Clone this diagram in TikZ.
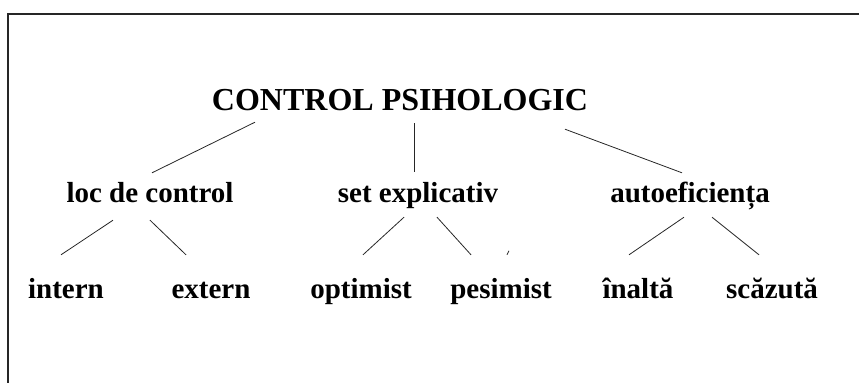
\documentclass[tikz,border=0pt]{standalone}
\usepackage{fontspec}
\setmainfont{Liberation Serif}
\usepackage{tikz}

\begin{document}
\begin{tikzpicture}[
  x=1pt,y=-1pt,
  font=\bfseries,
  root/.style={inner sep=0pt,anchor=base,text height=20pt,text depth=6pt,font=\fontsize{32}{36}\selectfont\bfseries},
  branch/.style={inner sep=0pt,anchor=base,text height=20pt,text depth=6pt,font=\fontsize{29}{34}\selectfont\bfseries},
  leaf/.style={branch},
  ln/.style={draw=black!85,line width=0.8pt},
  frame/.style={draw=black!85,line width=1.6pt}
]
\useasboundingbox (0,0) rectangle (859,383);
\draw[frame] (859,14) -- (8,14) -- (8,383);

\node[root] (psy) at (400,110) {CONTROL PSIHOLOGIC};

\node[branch] (loc) at (150,202) {loc de control};
\node[branch] (set) at (418,202) {set explicativ};
\node[branch] (auto) at (690,202) {autoeficiența};

\node[leaf] (int) at (66,298) {intern};
\node[leaf] (ext) at (211,298) {extern};
\node[leaf] (opt) at (361,298) {optimist};
\node[leaf] (pes) at (501,298) {pesimist};
\node[leaf] (high) at (638,298) {înaltă};
\node[leaf] (low) at (772,298) {scăzută};

\draw[ln] ([xshift=-145pt,yshift=-6pt]psy.south) -- ([xshift=2pt,yshift=9pt]loc.north);
\draw[ln] ([xshift=14pt,yshift=-7pt]psy.south) -- ([xshift=-4pt,yshift=10pt]set.north);
\draw[ln] ([xshift=165pt,yshift=-13pt]psy.south) -- ([xshift=-8pt,yshift=9pt]auto.north);

\draw[ln] ([xshift=-37pt,yshift=-12pt]loc.south) -- ([xshift=-5pt,yshift=23pt]int.north);
\draw[ln] ([yshift=-12pt]loc.south) -- ([xshift=-25pt,yshift=23pt]ext.north);
\draw[ln] ([xshift=-14pt,yshift=-9pt]set.south) -- ([xshift=2pt,yshift=23pt]opt.north);
\draw[ln] ([xshift=19pt,yshift=-9pt]set.south) -- ([xshift=-30pt,yshift=23pt]pes.north);
\draw[ln] ([xshift=6pt,yshift=23pt]pes.north) -- ([xshift=8pt,yshift=27pt]pes.north);
\draw[ln] ([xshift=-6pt,yshift=-9pt]auto.south) -- ([xshift=-9pt,yshift=23pt]high.north);
\draw[ln] ([xshift=22pt,yshift=-9pt]auto.south) -- ([xshift=-13pt,yshift=23pt]low.north);
\end{tikzpicture}
\end{document}
